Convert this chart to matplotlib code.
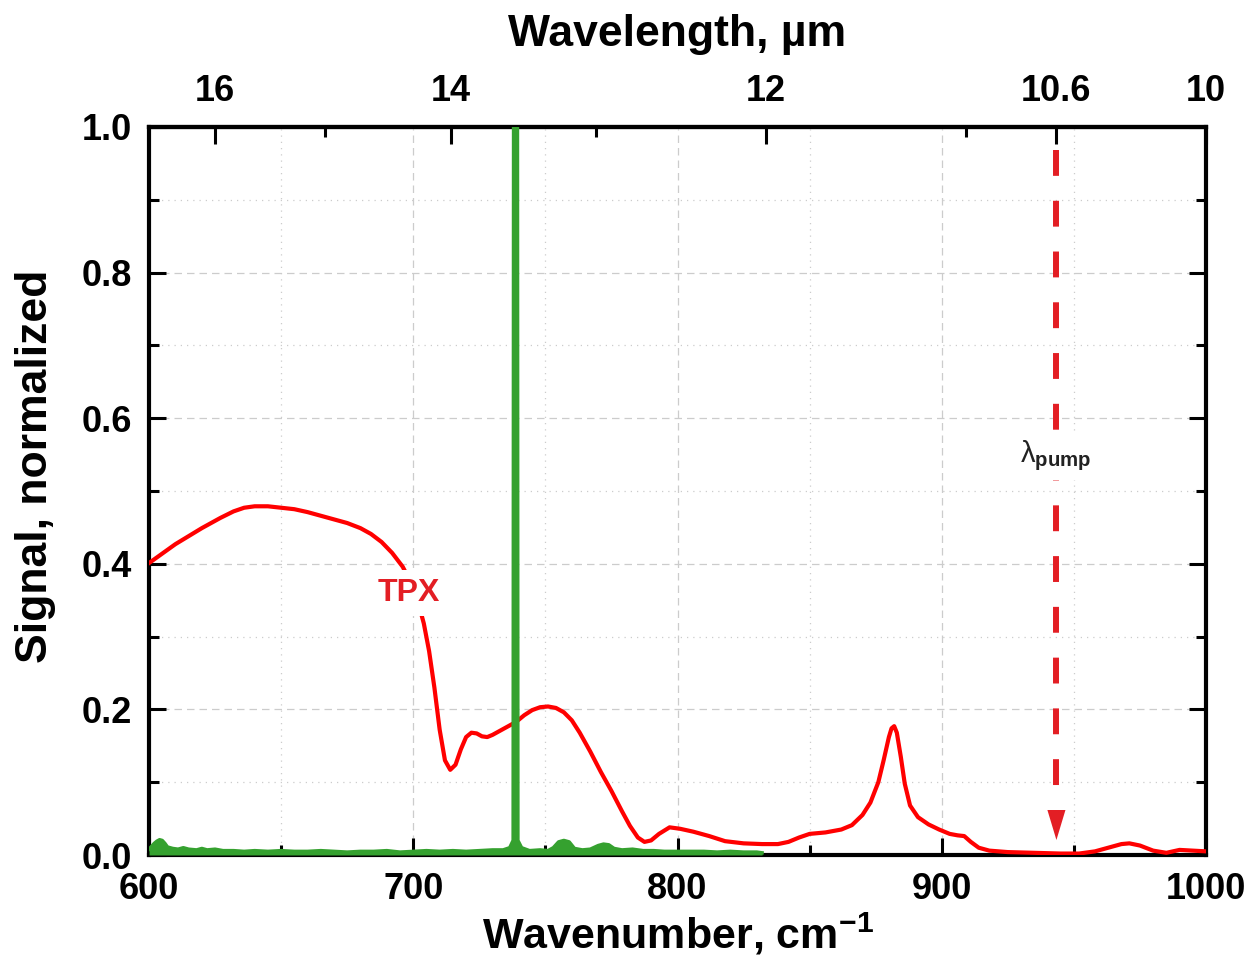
import numpy as np
import matplotlib.pyplot as plt
from matplotlib.ticker import MultipleLocator, FixedLocator, FormatStrFormatter

plt.rcParams['font.family'] = ['Liberation Sans', 'DejaVu Sans']
plt.rcParams['font.weight'] = 'bold'
plt.rcParams['axes.labelweight'] = 'bold'
plt.rcParams['mathtext.fontset'] = 'custom'
plt.rcParams['mathtext.rm'] = 'Liberation Sans'
plt.rcParams['mathtext.bf'] = 'Liberation Sans:bold'
plt.rcParams['mathtext.default'] = 'bf'

# TPX transmission spectrum (normalized)
tpx_wn = [600, 610, 620, 627, 632, 636, 640, 645, 650, 655, 660, 665, 670, 675, 680, 684,
          688, 692, 696, 699, 702, 704, 706, 708, 710, 712, 714, 716, 718, 720, 722,
          724, 726, 728, 730, 733, 736, 739, 742, 745, 748, 751, 754, 757, 760, 763,
          767, 771, 775, 779, 782, 785, 787.5, 790, 793, 797, 801, 806, 812, 818, 825,
          832, 838, 842, 846, 850, 856, 862, 866, 870, 873, 876, 878, 880, 881, 882,
          883, 884.5, 886, 888, 891, 895, 899, 903, 906, 908.5, 911, 914, 918, 925, 935,
          945, 952, 958, 963, 968, 971, 975, 980, 985, 990, 995, 1000]
tpx_sig = [0.401, 0.427, 0.449, 0.463, 0.472, 0.477, 0.479, 0.479, 0.477, 0.475, 0.471,
           0.466, 0.461, 0.456, 0.449, 0.441, 0.430, 0.415, 0.396, 0.375, 0.345, 0.318,
           0.280, 0.230, 0.172, 0.130, 0.117, 0.124, 0.145, 0.162, 0.168, 0.167, 0.163,
           0.162, 0.165, 0.171, 0.177, 0.183, 0.192, 0.199, 0.203, 0.204, 0.202, 0.196,
           0.185, 0.168, 0.142, 0.114, 0.088, 0.060, 0.040, 0.024, 0.018, 0.020, 0.029,
           0.038, 0.036, 0.032, 0.026, 0.019, 0.016, 0.015, 0.015, 0.018, 0.024, 0.029,
           0.031, 0.035, 0.041, 0.055, 0.072, 0.100, 0.130, 0.162, 0.174, 0.177, 0.168,
           0.135, 0.098, 0.068, 0.052, 0.042, 0.035, 0.029, 0.027, 0.026, 0.018, 0.010,
           0.006, 0.004, 0.003, 0.002, 0.002, 0.005, 0.010, 0.015, 0.016, 0.013, 0.006,
           0.003, 0.007, 0.006, 0.005]

# reference emission line (green)
ref_wn = [600, 601, 602, 603, 604, 605, 606, 607, 609, 611, 613, 615, 618, 620, 622,
          625, 628, 632, 636, 640, 645, 650, 655, 660, 665, 670, 675, 680, 685, 690,
          695, 700, 705, 710, 715, 720, 725, 730, 734, 736.5, 737.8, 738.0, 739.4, 739.6,
          741, 744, 748, 751, 753, 755, 757, 759, 761, 764, 767, 770, 772, 774, 776, 779,
          783, 787, 791, 795, 800, 805, 810, 815, 820, 825, 830, 832]
ref_sig = [0.008, 0.012, 0.016, 0.019, 0.021, 0.020, 0.016, 0.011, 0.009, 0.008, 0.010,
           0.008, 0.007, 0.009, 0.007, 0.008, 0.006, 0.006, 0.005, 0.006, 0.005, 0.006,
           0.005, 0.005, 0.006, 0.005, 0.004, 0.005, 0.005, 0.006, 0.004, 0.005, 0.006,
           0.005, 0.006, 0.005, 0.006, 0.007, 0.007, 0.010, 0.02, 1.2, 1.2, 0.02, 0.010,
           0.006, 0.007, 0.006, 0.010, 0.018, 0.020, 0.018, 0.009, 0.007, 0.008, 0.013,
           0.015, 0.014, 0.009, 0.007, 0.008, 0.006, 0.006, 0.005, 0.005, 0.005, 0.005,
           0.004, 0.005, 0.004, 0.004, 0.003]

wl_major = [16, 14, 12, 10.6, 10]
wl_labels = ['16', '14', '12', '10.6', '10']
wl_minor = [15, 13, 11]
pump_wl = 10.6

red = '#ff0000'
arrow_red = '#e31e24'
green = '#35a12f'


def wn_to_wl(x):
    x = np.asarray(x, dtype=float)
    with np.errstate(divide='ignore', invalid='ignore'):
        return 1e4 / x


fig = plt.figure(figsize=(12.53, 9.63), dpi=100)
ax = fig.add_axes([149 / 1253, 108 / 963, 1057 / 1253, 728 / 963])

ax.plot(tpx_wn, tpx_sig, color=red, lw=3, zorder=3)
ax.fill_between(ref_wn, 0, ref_sig, color=green, lw=0, zorder=4)
ax.plot(ref_wn, ref_sig, color=green, lw=2.5, zorder=4)

# pump arrow
pump_wn = 1e4 / pump_wl
ax.plot([pump_wn, pump_wn], [0.968, 0.091], color=arrow_red, lw=4.3,
        linestyle=(0, (4.33, 4.17)), zorder=5)
ax.annotate('', xy=(pump_wn, 0.0206), xytext=(pump_wn, 0.062),
            arrowprops=dict(arrowstyle='-|>,head_length=21.6,head_width=6.5',
                            mutation_scale=1, color=arrow_red, lw=0,
                            shrinkA=0, shrinkB=0), zorder=5)
ax.text(943.0, 0.549, 'λ$_{\\mathrm{pump}}$', fontsize=21, fontweight='normal',
        ha='center', va='center', color='#222222',
        bbox=dict(facecolor='white', edgecolor='none', pad=5), zorder=6)
ax.text(698.4, 0.36, 'TPX', fontsize=23, fontweight='bold', color=arrow_red,
        ha='center', va='center',
        bbox=dict(facecolor='white', edgecolor='none', pad=6), zorder=6)

ax.set_xlim(600, 1000)
ax.set_ylim(0, 1)
ax.xaxis.set_major_locator(MultipleLocator(100))
ax.xaxis.set_minor_locator(MultipleLocator(50))
ax.yaxis.set_major_locator(MultipleLocator(0.2))
ax.yaxis.set_minor_locator(MultipleLocator(0.1))
ax.yaxis.set_major_formatter(FormatStrFormatter('%.1f'))

ax.tick_params(which='both', direction='in', top=False, right=True, width=2.2)
ax.tick_params(which='major', length=12, labelsize=26)
ax.tick_params(axis='x', which='major', pad=12)
ax.tick_params(axis='y', which='major', pad=12)
ax.tick_params(which='minor', length=7)
for s in ax.spines.values():
    s.set_linewidth(3)

ax.set_axisbelow(True)
ax.grid(which='major', linestyle=(0, (6, 4)), color='#cccccc', lw=0.9)
ax.grid(which='minor', linestyle=(0, (1, 4)), color='#cccccc', lw=0.9)

ax.set_xlabel('Wavenumber, cm$^{-1}$', fontsize=31, labelpad=3)
ax.set_ylabel('Signal, normalized', fontsize=32)
ax.yaxis.set_label_coords(-0.088, 0.534)

sec = ax.secondary_xaxis('top', functions=(wn_to_wl, wn_to_wl))
sec.set_ticks(wl_major, labels=wl_labels)
sec.xaxis.set_minor_locator(FixedLocator(wl_minor))
sec.tick_params(which='both', direction='in', width=2.2)
sec.tick_params(which='major', length=12, labelsize=26, pad=13)
sec.tick_params(which='minor', length=7)
sec.spines['top'].set_linewidth(3)
sec.set_xlabel('Wavelength, µm', fontsize=32, labelpad=20)

fig.savefig('out.png', dpi=100)
